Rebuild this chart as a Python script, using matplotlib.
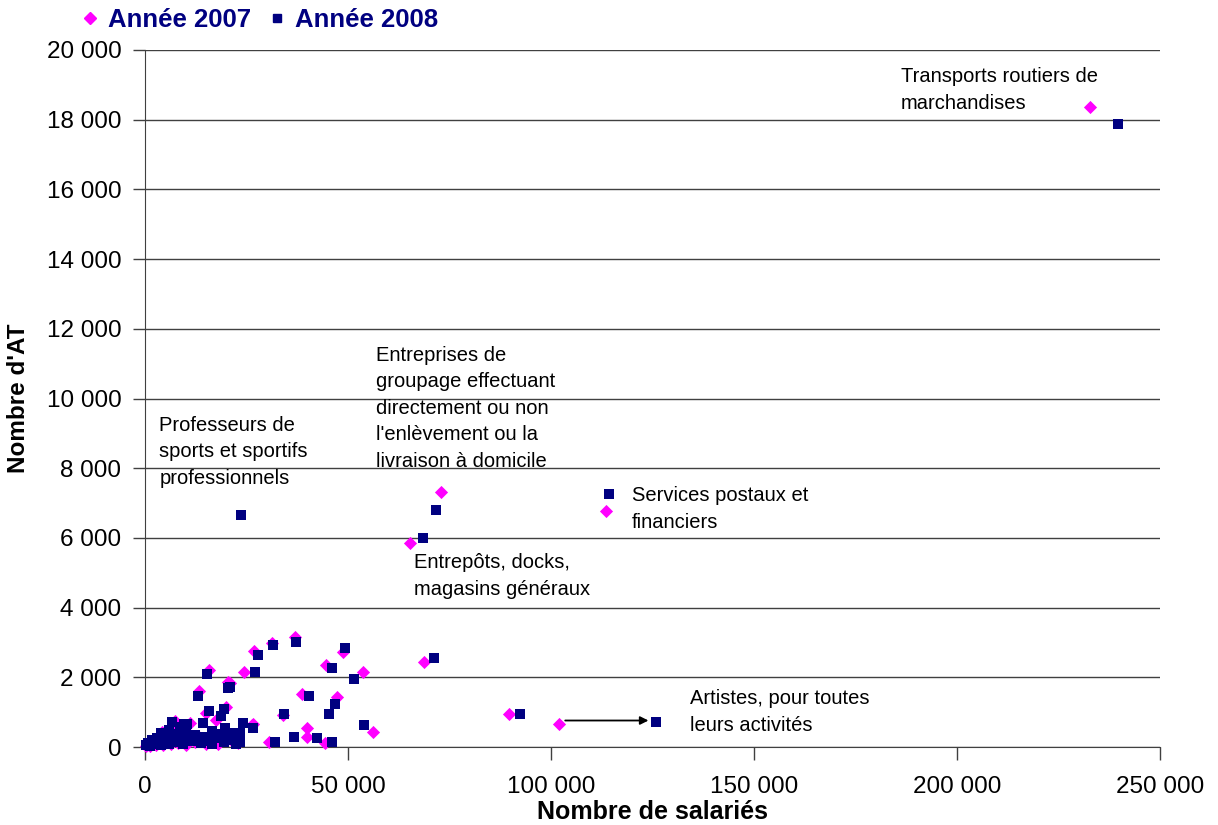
import matplotlib
matplotlib.use("Agg")
import matplotlib.pyplot as plt
from matplotlib.lines import Line2D
from matplotlib.ticker import FuncFormatter

plt.rcParams['font.family'] = ['Liberation Sans', 'DejaVu Sans']

# 2007 data (Nombre de salariés, Nombre d'AT)
x2007 = [232800, 102000, 89700, 113600, 72900, 65300, 31200, 37000, 26900, 24500,
         48800, 44500, 53800, 68600, 38600, 47400, 34100, 39800, 39800, 56200,
         30600, 44300, 26300, 20900, 15800, 20500, 13300, 15000, 19900, 17500,
         11100, 7400, 26700,
         200, 700, 1300, 1900, 2600, 3200, 3800, 4400, 5000, 5700, 6300, 6900,
         7500, 8100, 8700, 9300, 10000, 10800, 11600, 12400, 13300, 14200, 15100,
         16000, 17000, 18000, 19000, 21000, 23000, 4200, 6100, 8600, 9800, 12500]
y2007 = [18360, 660, 950, 6770, 7320, 5850, 2980, 3150, 2760, 2160,
         2740, 2350, 2160, 2440, 1510, 1440, 920, 540, 280, 420,
         150, 120, 630, 1840, 2210, 1870, 1620, 980, 1160, 780,
         680, 760, 650,
         40, 90, 20, 160, 70, 230, 120, 50, 290, 150, 80, 240,
         350, 120, 270, 180, 70, 380, 230, 140, 300, 190, 100,
         260, 160, 90, 340, 220, 120, 420, 520, 580, 640, 310]

# 2008 data
x2008 = [239700, 125900, 92400, 114300, 71700, 68500, 23700, 71200, 31600, 37200,
         27900, 27100, 49300, 46000, 51600, 40400, 46800, 45200, 34300, 54000,
         36800, 42400, 46000, 31900, 26700, 24200, 23400, 23400, 21400, 20900,
         15200, 20400, 13100, 15800, 19500, 18700, 14400, 10300, 6600, 19700, 16400,
         300, 800, 1200, 1800, 2300, 2900, 3400, 4000, 4600, 5200, 5800, 6400,
         7000, 7600, 8200, 8800, 9400, 10000, 10700, 11400, 12200, 13000, 13800,
         14700, 15600, 16500, 17500, 18500, 19500, 20500, 21500, 22500,
         4000, 6000, 8500, 9500, 11500]
y2008 = [17880, 720, 950, 7260, 6800, 6000, 6660, 2550, 2930, 3010,
         2640, 2160, 2830, 2260, 1940, 1460, 1230, 950, 950, 620,
         300, 250, 150, 150, 540, 680, 400, 150, 400, 1720,
         2090, 1700, 1460, 1040, 1100, 890, 700, 660, 730, 550, 470,
         50, 120, 30, 200, 90, 250, 150, 60, 320, 180, 100, 260,
         380, 140, 300, 200, 90, 420, 250, 160, 330, 210, 120,
         280, 180, 100, 380, 250, 150, 300, 200, 100,
         400, 500, 560, 650, 300]

xticks = [0, 50000, 100000, 150000, 200000, 250000]
yticks = [0, 2000, 4000, 6000, 8000, 10000, 12000, 14000, 16000, 18000, 20000]

annotations = [
    ("Transports routiers de\nmarchandises", 186200, 19500),
    ("Entreprises de\ngroupage effectuant\ndirectement ou non\nl'enlèvement ou la\nlivraison à domicile", 56900, 11520),
    ("Professeurs de\nsports et sportifs\nprofessionnels", 3500, 9500),
    ("Services postaux et\nfinanciers", 119900, 7480),
    ("Entrepôts, docks,\nmagasins généraux", 66300, 5560),
    ("Artistes, pour toutes\nleurs activités", 134200, 1650),
]

MAGENTA = '#FF00FF'
NAVY = '#000080'

fig = plt.figure(figsize=(12.18, 8.25), dpi=100)
ax = fig.add_axes([145/1218, 78/825, (1160-145)/1218, (747-50)/825])

ax.scatter(x2007, y2007, marker='D', s=45, color=MAGENTA,
           linewidths=0, zorder=3, clip_on=False)
ax.scatter(x2008, y2008, marker='s', s=58, color=NAVY,
           linewidths=0, zorder=4, clip_on=False)

ax.set_xlim(0, 250000)
ax.set_ylim(0, 20000)
ax.set_xticks(xticks)
ax.set_yticks(yticks)
fmt = FuncFormatter(lambda v, p: f"{int(v):,}".replace(",", " "))
ax.xaxis.set_major_formatter(fmt)
ax.yaxis.set_major_formatter(fmt)
ax.tick_params(axis='both', labelsize=17.5, direction='out', length=9,
               width=1, color='#404040')
ax.tick_params(axis='x', pad=12)
ax.tick_params(axis='y', pad=8)
ax.grid(axis='y', color='#404040', linewidth=1)
ax.set_axisbelow(True)
for s in ['top', 'right']:
    ax.spines[s].set_visible(False)
for s in ['left', 'bottom']:
    ax.spines[s].set_color('#404040')

ax.set_xlabel("Nombre de salariés", fontsize=18, fontweight='bold', va='center')
ax.xaxis.set_label_coords(0.5, -(812 - 747) / 697)
ax.set_ylabel("Nombre d'AT", fontsize=17.5, fontweight='bold', va='center')
ax.yaxis.set_label_coords(-(145 - 19) / 1015, 0.5)

for txt, tx, ty in annotations:
    ax.text(tx, ty, txt, fontsize=14.5, va='top', ha='left', linespacing=1.5,
            color='black')

ax.annotate('', xy=(124000, 760), xytext=(103500, 760),
            arrowprops=dict(arrowstyle='-|>', color='black', lw=1.3,
                            mutation_scale=12, shrinkA=0, shrinkB=0))

handles = [Line2D([], [], marker='D', color=MAGENTA, linestyle='None', markersize=6),
           Line2D([], [], marker='s', color=NAVY, linestyle='None', markersize=6)]
leg = fig.legend(handles, ["Année 2007", "Année 2008"], loc='center left',
                 bbox_to_anchor=(54/1218, 1 - 20/825), ncol=2, frameon=False,
                 handletextpad=0.2, columnspacing=0.5, handlelength=1.0,
                 prop={'size': 18.5, 'weight': 'bold'})
for t in leg.get_texts():
    t.set_color(NAVY)

fig.savefig("out.png", dpi=100)
